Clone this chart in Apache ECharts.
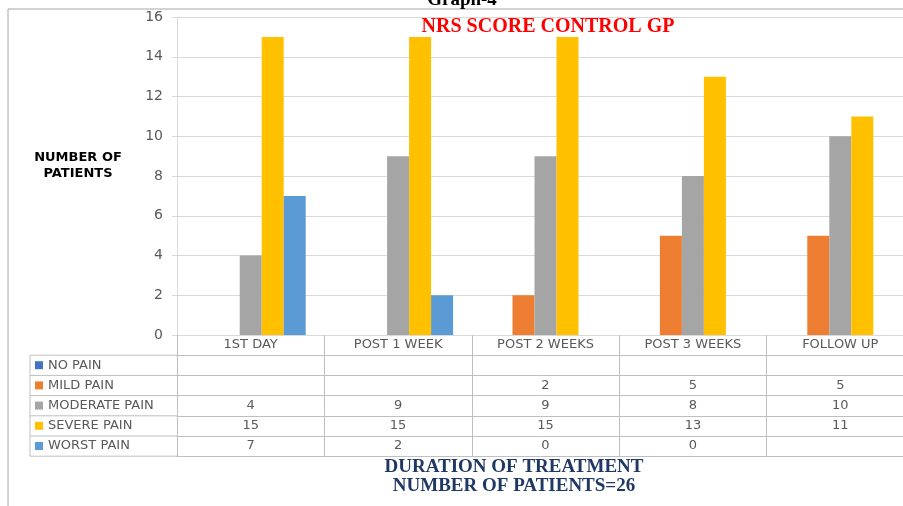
<!DOCTYPE html>
<html>
<head>
<meta charset="utf-8">
<script src="https://cdn.jsdelivr.net/npm/echarts@6/dist/echarts.min.js"></script>
<style>
  html, body { margin: 0; padding: 0; background: #fff; }
  #chart { width: 903px; height: 506px; }
</style>
</head>
<body>
<div id="chart"></div>
<script>
// data
const categories = ['1ST DAY', 'POST 1 WEEK', 'POST 2 WEEKS', 'POST 3 WEEKS', 'FOLLOW UP'];
const seriesNames = ['NO PAIN', 'MILD PAIN', 'MODERATE PAIN', 'SEVERE PAIN', 'WORST PAIN'];
const noPain = [null, null, null, null, null];
const mildPain = [null, null, 2, 5, 5];
const moderatePain = [4, 9, 9, 8, 10];
const severePain = [15, 15, 15, 13, 11];
const worstPain = [7, 2, 0, 0, null];
const yMin = 0, yMax = 16, yStep = 2;

const colors = ['#4472c4', '#ed7d31', '#a5a5a5', '#ffc000', '#5b9bd5'];
const rows = [noPain, mildPain, moderatePain, severePain, worstPain];

// layout
const plotLeft = 177, plotTop = 17, axisY = 335, rowH = 20.2, tableLeft = 30;
const labelFont = 'DejaVu Sans';
const lineColor = '#bfbfbf';

const chart = echarts.init(document.getElementById('chart'));

const xAxes = [{
  type: 'category',
  data: categories,
  position: 'bottom',
  axisLine: { show: true, lineStyle: { color: '#d9d9d9' } },
  axisTick: { show: true, alignWithLabel: false, interval: 0, length: rowH, lineStyle: { color: lineColor } },
  axisLabel: { interval: 0, margin: 3, color: '#595959', fontSize: 13, fontFamily: labelFont, lineHeight: 14 },
  splitLine: { show: false }
}];
// one axis per table row, the labels are that row's values
rows.forEach((row, i) => {
  xAxes.push({
    type: 'category',
    data: categories,
    position: 'bottom',
    offset: rowH * (i + 1),
    axisLine: { show: true, lineStyle: { color: lineColor } },
    axisTick: { show: true, alignWithLabel: false, interval: 0, length: rowH, lineStyle: { color: lineColor } },
    axisLabel: {
      interval: 0, margin: 3, color: '#595959', fontSize: 13, fontFamily: labelFont, lineHeight: 14,
      formatter: (v, idx) => row[idx] == null ? '' : String(row[idx])
    },
    splitLine: { show: false }
  });
});
// bottom edge of the table
xAxes.push({
  type: 'category',
  data: categories,
  position: 'bottom',
  offset: rowH * (rows.length + 1),
  axisLine: { show: true, lineStyle: { color: lineColor } },
  axisTick: { show: false },
  axisLabel: { show: false },
  splitLine: { show: false }
});

// lines of the legend column of the table
const tableLines = [];
for (let j = 0; j <= rows.length; j++) {
  const y = axisY + rowH * (j + 1);
  tableLines.push({ type: 'line', shape: { x1: tableLeft, y1: y, x2: plotLeft, y2: y }, style: { stroke: lineColor, lineWidth: 1 }, silent: true });
}
tableLines.push({ type: 'line', shape: { x1: tableLeft, y1: axisY + rowH, x2: tableLeft, y2: axisY + rowH * (rows.length + 1) }, style: { stroke: lineColor, lineWidth: 1 }, silent: true });

const option = {
  animation: false,
  color: colors,
  grid: { left: plotLeft, top: plotTop, right: -11, bottom: 506 - axisY, outerBoundsMode: 'none', containLabel: false },
  legend: {
    orient: 'vertical',
    left: 35,
    top: axisY + rowH + 3,
    padding: 0,
    itemGap: rowH - 14,
    itemWidth: 8,
    itemHeight: 8,
    icon: 'rect',
    selectedMode: false,
    data: seriesNames,
    textStyle: { color: '#595959', fontSize: 13, fontFamily: labelFont, lineHeight: 14, padding: [0, 0, 0, 0] }
  },
  xAxis: xAxes,
  yAxis: {
    type: 'value',
    min: yMin,
    max: yMax,
    interval: yStep,
    axisLine: { show: true, lineStyle: { color: '#d9d9d9' } },
    axisTick: { show: true, length: 5, lineStyle: { color: '#d9d9d9' } },
    axisLabel: { margin: 14, color: '#595959', fontSize: 14, fontFamily: labelFont },
    splitLine: { lineStyle: { color: '#d9d9d9', width: 1 } }
  },
  series: seriesNames.map((name, i) => ({
    name: name,
    type: 'bar',
    data: rows[i],
    barWidth: 22,
    barGap: '0%',
    itemStyle: { color: colors[i] }
  })),
  graphic: [
    { type: 'rect', shape: { x: 8, y: 9, width: 1000, height: 600 }, style: { fill: 'none', stroke: '#a6a6a6', lineWidth: 1 }, silent: true, z: -10 },
    { type: 'text', x: 462, y: 10, style: { text: 'Graph-4', fill: '#000', font: 'bold 19px "Liberation Serif"', textAlign: 'center', textVerticalAlign: 'bottom' } },
    { type: 'text', x: 548, y: 27, style: { text: 'NRS SCORE CONTROL GP', fill: '#ff0000', font: 'bold 20px "Liberation Serif"', textAlign: 'center', textVerticalAlign: 'middle' } },
    { type: 'text', x: 78, y: 166, style: { text: 'NUMBER OF\nPATIENTS', fill: '#000', font: 'bold 13px "DejaVu Sans"', lineHeight: 16, textAlign: 'center', textVerticalAlign: 'middle' } },
    { type: 'text', x: 514, y: 477, style: { text: 'DURATION OF TREATMENT\nNUMBER OF PATIENTS=26', fill: '#1f3864', font: 'bold 19px "Liberation Serif"', lineHeight: 19, textAlign: 'center', textVerticalAlign: 'middle' } }
  ].concat(tableLines)
};

chart.setOption(option);
</script>
</body>
</html>
